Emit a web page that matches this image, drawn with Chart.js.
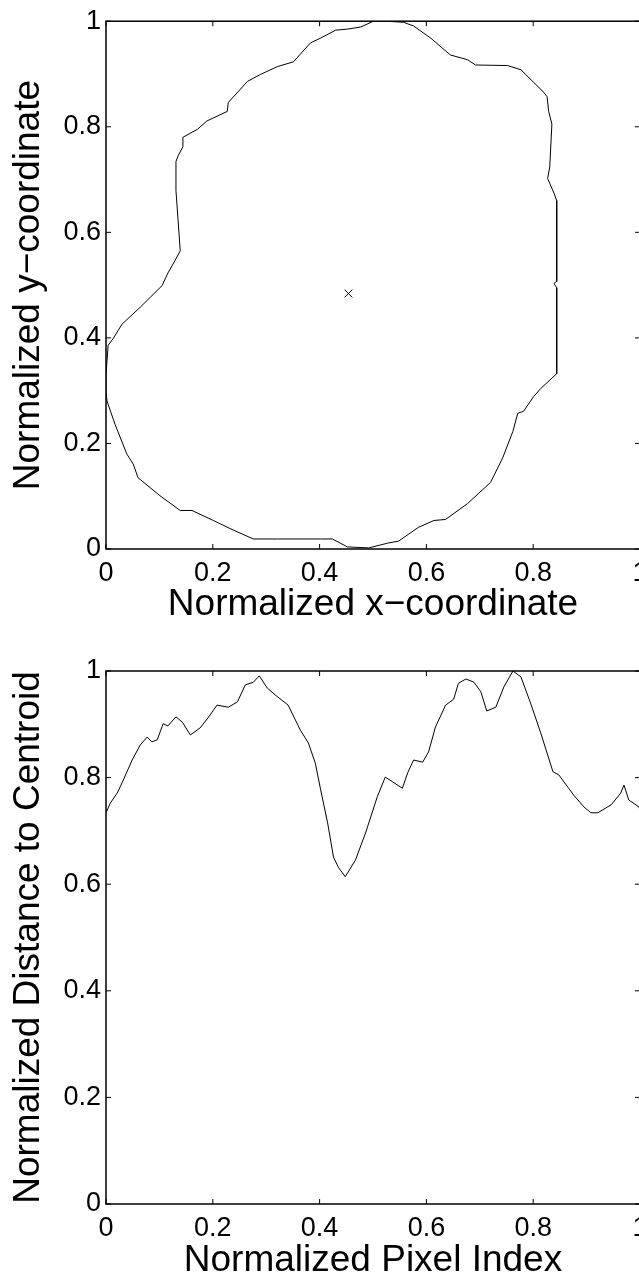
<!DOCTYPE html>
<html lang="en">
<head>
<meta charset="UTF-8">
<title>Contour and centroid distance</title>
<script src="https://cdn.jsdelivr.net/npm/chart.js@4.4.1/dist/chart.umd.min.js"></script>
<style>
    html, body {
        margin: 0;
        padding: 0;
        background: #fff;
        overflow: hidden;
        width: 639px;
        height: 1279px;
    }
    .panel {
        position: absolute;
        left: 0;
    }
</style>
</head>
<body>
<div class="panel" style="top:0"><canvas id="shapeChart" width="700" height="640"></canvas></div>
<div class="panel" style="top:640px"><canvas id="distChart" width="700" height="660"></canvas></div>
<script>
// tick values and labels (same on both axes, both plots)
const tickValues = [0, 0.2, 0.4, 0.6, 0.8, 1];
const tickLabels = ['0', '0.2', '0.4', '0.6', '0.8', '1'];

// top plot: normalized boundary of the shape, traced clockwise from the top
const contourX = [0.501, 0.523, 0.557, 0.576, 0.608, 0.645, 0.677, 0.692, 0.752, 0.777,
    0.820, 0.826, 0.829, 0.835, 0.831, 0.827, 0.839, 0.844, 0.844, 0.839,
    0.844, 0.844, 0.814, 0.801, 0.782, 0.771, 0.762, 0.743, 0.720, 0.677,
    0.636, 0.614, 0.585, 0.548, 0.527, 0.492, 0.452, 0.424, 0.402, 0.326,
    0.321, 0.276, 0.238, 0.201, 0.161, 0.139, 0.101, 0.060, 0.051, 0.039,
    0.017, 0.002, 0.000, 0.000, 0.004, 0.013, 0.030, 0.064, 0.105, 0.116,
    0.129, 0.139, 0.135, 0.131, 0.131, 0.135, 0.144, 0.144, 0.171, 0.189,
    0.227, 0.229, 0.265, 0.289, 0.321, 0.351, 0.383, 0.402, 0.430, 0.452,
    0.477, 0.501];
const contourY = [1.000, 1.000, 0.998, 0.991, 0.968, 0.936, 0.927, 0.917, 0.916, 0.908,
    0.865, 0.857, 0.829, 0.805, 0.724, 0.702, 0.674, 0.660, 0.507, 0.503,
    0.495, 0.332, 0.304, 0.289, 0.261, 0.257, 0.223, 0.173, 0.126, 0.086,
    0.056, 0.054, 0.041, 0.015, 0.011, 0.002, 0.004, 0.019, 0.019, 0.019,
    0.019, 0.019, 0.036, 0.054, 0.073, 0.073, 0.101, 0.135, 0.161, 0.180,
    0.236, 0.280, 0.298, 0.330, 0.386, 0.398, 0.426, 0.458, 0.499, 0.523,
    0.546, 0.565, 0.623, 0.679, 0.734, 0.745, 0.762, 0.780, 0.795, 0.811,
    0.829, 0.846, 0.886, 0.899, 0.914, 0.923, 0.959, 0.968, 0.983, 0.985,
    0.989, 1.000];
const centroidX = [0.454];
const centroidY = [0.484];

// bottom plot: distance of each boundary pixel to the centroid
const pixelIndex = [0, 0.008, 0.021, 0.030, 0.049, 0.064, 0.077, 0.086, 0.096, 0.107,
    0.116, 0.131, 0.143, 0.158, 0.176, 0.191, 0.208, 0.229, 0.246, 0.261,
    0.276, 0.287, 0.302, 0.317, 0.341, 0.364, 0.379, 0.392, 0.402, 0.415,
    0.426, 0.435, 0.448, 0.467, 0.486, 0.508, 0.523, 0.555, 0.565, 0.576,
    0.593, 0.604, 0.617, 0.636, 0.651, 0.660, 0.674, 0.689, 0.702, 0.713,
    0.730, 0.745, 0.762, 0.777, 0.795, 0.814, 0.837, 0.848, 0.865, 0.876,
    0.895, 0.908, 0.921, 0.946, 0.964, 0.970, 0.979, 0.998, 1.000];
const centroidDist = [0.734, 0.752, 0.771, 0.790, 0.833, 0.861, 0.876, 0.867, 0.871, 0.901,
    0.897, 0.914, 0.904, 0.880, 0.893, 0.912, 0.936, 0.932, 0.942, 0.974,
    0.979, 0.991, 0.968, 0.955, 0.936, 0.889, 0.865, 0.827, 0.777, 0.715,
    0.651, 0.632, 0.614, 0.645, 0.696, 0.764, 0.801, 0.780, 0.809, 0.833,
    0.829, 0.848, 0.895, 0.936, 0.947, 0.977, 0.985, 0.979, 0.961, 0.925,
    0.932, 0.970, 1.000, 0.989, 0.940, 0.884, 0.811, 0.805, 0.782, 0.767,
    0.745, 0.734, 0.734, 0.749, 0.771, 0.786, 0.758, 0.745, 0.739];

Chart.defaults.font.family = '"Liberation Sans", Arial, Helvetica, sans-serif';
Chart.defaults.color = '#000';

function toPoints(xs, ys) {
    return xs.map((x, i) => ({x: x, y: ys[i]}));
}

// matlab style box: border all round, short ticks pointing inwards
const boxPlugin = {
    id: 'matlabBox',
    afterDraw(chart) {
        const {ctx, chartArea: a, scales} = chart;
        const len = 5;
        ctx.save();
        ctx.strokeStyle = '#000';
        ctx.lineWidth = 1;
        ctx.beginPath();
        scales.x.ticks.forEach(t => {
            const px = scales.x.getPixelForValue(t.value);
            ctx.moveTo(px, a.bottom);
            ctx.lineTo(px, a.bottom - len);
            ctx.moveTo(px, a.top);
            ctx.lineTo(px, a.top + len);
        });
        scales.y.ticks.forEach(t => {
            const py = scales.y.getPixelForValue(t.value);
            ctx.moveTo(a.left, py);
            ctx.lineTo(a.left + len, py);
            ctx.moveTo(a.right, py);
            ctx.lineTo(a.right - len, py);
        });
        ctx.stroke();
        ctx.lineWidth = 1.5;
        ctx.strokeRect(a.left, a.top, a.right - a.left, a.bottom - a.top);
        ctx.restore();
    }
};

function axisOptions(titleText, isX, xHeight, titlePad) {
    return {
        type: 'linear',
        min: 0,
        max: 1,
        grid: {display: false, drawTicks: false},
        border: {display: false},
        afterBuildTicks: scale => {
            scale.ticks = tickValues.map(v => ({value: v}));
        },
        afterFit: scale => {
            if (isX) scale.height = xHeight;
            else scale.width = 106;
        },
        ticks: {
            font: {size: 27},
            padding: isX ? 8 : 5,
            maxRotation: 0,
            autoSkip: false,
            callback: (v, i) => tickLabels[i]
        },
        title: {
            display: true,
            text: titleText,
            font: {size: 37},
            padding: isX ? {top: 0, bottom: titlePad} : {top: 7, bottom: 0}
        }
    };
}

function makeOptions(padTop, xHeight, titlePad, xTitle, yTitle) {
    return {
        responsive: false,
        devicePixelRatio: 1,
        animation: false,
        layout: {padding: {left: 0, right: 60, top: padTop, bottom: 0}},
        plugins: {legend: {display: false}, tooltip: {enabled: false}},
        scales: {
            x: axisOptions(xTitle, true, xHeight, titlePad),
            y: axisOptions(yTitle, false)
        }
    };
}

new Chart(document.getElementById('shapeChart'), {
    type: 'scatter',
    data: {
        datasets: [{
            data: toPoints(contourX.concat(contourX[0]), contourY.concat(contourY[0])),
            showLine: true,
            borderColor: '#000',
            borderWidth: 1,
            pointRadius: 0,
            tension: 0
        }, {
            data: toPoints(centroidX, centroidY),
            showLine: false,
            pointStyle: 'crossRot',
            pointRadius: 5.5,
            borderColor: '#000',
            borderWidth: 1
        }]
    },
    options: makeOptions(16, 91, 13, 'Normalized x\u2212coordinate', 'Normalized y\u2212coordinate'),
    plugins: [boxPlugin]
});

new Chart(document.getElementById('distChart'), {
    type: 'scatter',
    data: {
        datasets: [{
            data: toPoints(pixelIndex, centroidDist),
            showLine: true,
            borderColor: '#000',
            borderWidth: 1,
            pointRadius: 0,
            tension: 0
        }]
    },
    options: makeOptions(31, 96, 17, 'Normalized Pixel Index', 'Normalized Distance to Centroid'),
    plugins: [boxPlugin]
});
</script>
</body>
</html>
